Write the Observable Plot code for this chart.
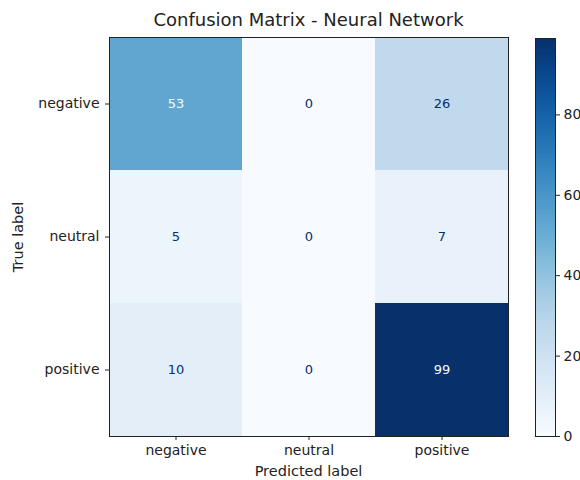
<!DOCTYPE html>
<html>
<head>
<meta charset="utf-8">
<script src="https://cdn.jsdelivr.net/npm/d3@7"></script>
<script src="https://cdn.jsdelivr.net/npm/@observablehq/plot@0.6"></script>
<style>
  body { margin: 0; background: #fff; }
  #wrap { position: relative; width: 580px; height: 480px; overflow: hidden; font-family: "DejaVu Sans", sans-serif; color: #222; }
  #title { position: absolute; left: 109px; width: 399px; top: 9px; text-align: center; font-size: 18px; line-height: 22px; }
  #xlabel { position: absolute; left: 109px; width: 399px; top: 462px; text-align: center; font-size: 14.5px; line-height: 18px; }
  #ylabel { position: absolute; left: 18px; top: 237px; font-size: 14.5px; line-height: 18px; white-space: nowrap; transform: translate(-50%, -50%) rotate(-90deg); }
  #main { position: absolute; left: 0; top: 0; }
  #cbar { position: absolute; left: 520px; top: 0; width: 80px; }
  #cbar svg { max-width: none !important; }
</style>
</head>
<body>
<div id="wrap">
  <div id="main"></div>
  <div id="cbar"></div>
  <div id="title">Confusion Matrix - Neural Network</div>
  <div id="xlabel">Predicted label</div>
  <div id="ylabel">True label</div>
</div>
<script>
const predictedLabels = ["negative", "neutral", "positive"];
const trueLabels = ["negative", "neutral", "positive"];
const counts = [
  [53, 0, 26],
  [5, 0, 7],
  [10, 0, 99]
];
const colorTicks = [0, 20, 40, 60, 80];
const colorMax = 99;

const cells = [];
trueLabels.forEach((t, i) => predictedLabels.forEach((p, j) => cells.push({truth: t, pred: p, value: counts[i][j]})));

const threshold = colorMax / 2;
const font = {fontSize: "14px", fontFamily: "DejaVu Sans, sans-serif", color: "#222", background: "transparent"};

const main = Plot.plot({
  width: 580,
  height: 480,
  marginLeft: 109,
  marginRight: 72,
  marginTop: 37,
  marginBottom: 44,
  style: font,
  x: {domain: predictedLabels, padding: 0, label: null, tickSize: 4, tickPadding: 5},
  y: {domain: trueLabels, padding: 0, label: null, tickSize: 4, tickPadding: 6},
  color: {type: "linear", scheme: "blues", domain: [0, colorMax]},
  marks: [
    Plot.cell(cells, {x: "pred", y: "truth", fill: "value", inset: 0}),
    Plot.text(cells, {x: "pred", y: "truth", text: d => String(d.value), fill: d => d.value > threshold ? "#f7fbff" : "#08306b", fontSize: 13}),
    Plot.frame({stroke: "#222"})
  ]
});
document.getElementById("main").appendChild(main);

const step = 0.5;
const gradient = d3.range(0, colorMax, step);
const cbar = Plot.plot({
  width: 80,
  height: 480,
  marginLeft: 15,
  marginRight: 45,
  marginTop: 38,
  marginBottom: 44,
  style: {...font, maxWidth: "none"},
  x: {domain: [0, 1], axis: null},
  y: {domain: [0, colorMax], axis: "right", ticks: colorTicks, tickFormat: d => String(d), label: null, tickSize: 4, tickPadding: 4},
  color: {type: "linear", scheme: "blues", domain: [0, colorMax]},
  marks: [
    Plot.rect(gradient, {x1: 0, x2: 1, y1: d => d, y2: d => Math.min(d + step + 0.3, colorMax), fill: d => d + step / 2}),
    Plot.frame({stroke: "#222"})
  ]
});
document.getElementById("cbar").appendChild(cbar);
</script>
</body>
</html>
